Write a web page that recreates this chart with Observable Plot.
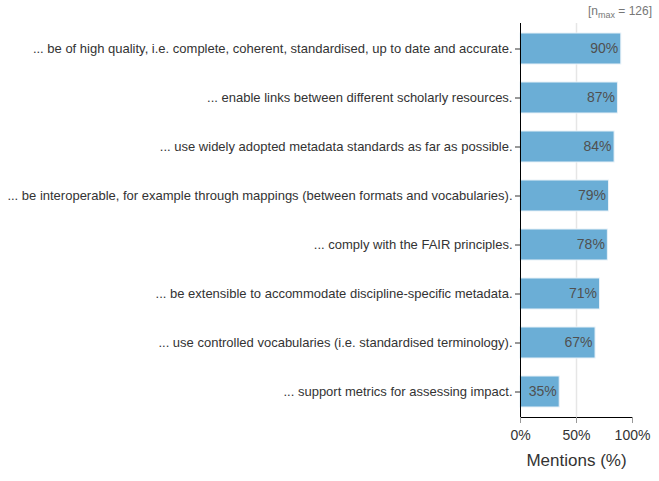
<!DOCTYPE html>
<html><head><meta charset="utf-8">
<script src="https://cdn.jsdelivr.net/npm/d3@7"></script>
<script src="https://cdn.jsdelivr.net/npm/@observablehq/plot@0.6"></script>
<style>
body{margin:0;background:#fff;font-family:"Liberation Sans",Arial,sans-serif;overflow:hidden;}
#wrap{position:relative;width:659px;height:481px;}
#wrap svg{display:block;}
#note{position:absolute;right:7px;top:4px;font-size:12px;color:#777;line-height:14px;}
#note sub{font-size:9px;vertical-align:-3px;line-height:0;}
</style></head>
<body><div id="wrap"><div id="note">[n<sub>max</sub> = 126]</div></div>
<script>
const categories = [
  "... be of high quality, i.e. complete, coherent, standardised, up to date and accurate.",
  "... enable links between different scholarly resources.",
  "... use widely adopted metadata standards as far as possible.",
  "... be interoperable, for example through mappings (between formats and vocabularies).",
  "... comply with the FAIR principles.",
  "... be extensible to accommodate discipline-specific metadata.",
  "... use controlled vocabularies (i.e. standardised terminology).",
  "... support metrics for assessing impact."
];
const values = [90, 87, 84, 79, 78, 71, 67, 35];
const xTicks = [0, 50, 100];
const data = categories.map((c, i) => ({category: c, value: values[i]}));

const chart = Plot.plot({
  width: 659, height: 481,
  marginLeft: 520, marginRight: 27, marginTop: 23, marginBottom: 64,
  style: {fontFamily: "Liberation Sans, Arial, sans-serif", fontSize: "13px", color: "#333", background: "#fff"},
  x: {domain: [0, 100], ticks: xTicks, tickFormat: d => d + "%"},
  y: {domain: categories, paddingInner: 0.37, paddingOuter: 0.185},
  marks: [
    Plot.ruleX([50], {stroke: "#e6e6e6", strokeWidth: 1.5}),
    Plot.barX(data, {y: "category", x: "value", fill: "#6baed6", stroke: "#e8f1f8", strokeWidth: 1}),
    Plot.text(data, {y: "category", x: "value", text: d => d.value + "%", textAnchor: "end", dx: -3, fill: "#505050", fontSize: 14}),
    Plot.ruleX([0], {stroke: "#000", strokeWidth: 1}),
    Plot.frame({anchor: "bottom", stroke: "#000"}),
    Plot.axisY({tickSize: 5, tickPadding: 3, fontSize: 13, label: null, stroke: "#333"}),
    Plot.axisX({ticks: xTicks, tickFormat: d => d + "%", tickSize: 6, tickPadding: 7, fontSize: 14, stroke: "#999", label: null}),
    Plot.text(["Mentions (%)"], {frameAnchor: "bottom", dy: 48, fontSize: 17, fill: "#333"})
  ]
});
document.getElementById("wrap").appendChild(chart);
</script></body></html>
